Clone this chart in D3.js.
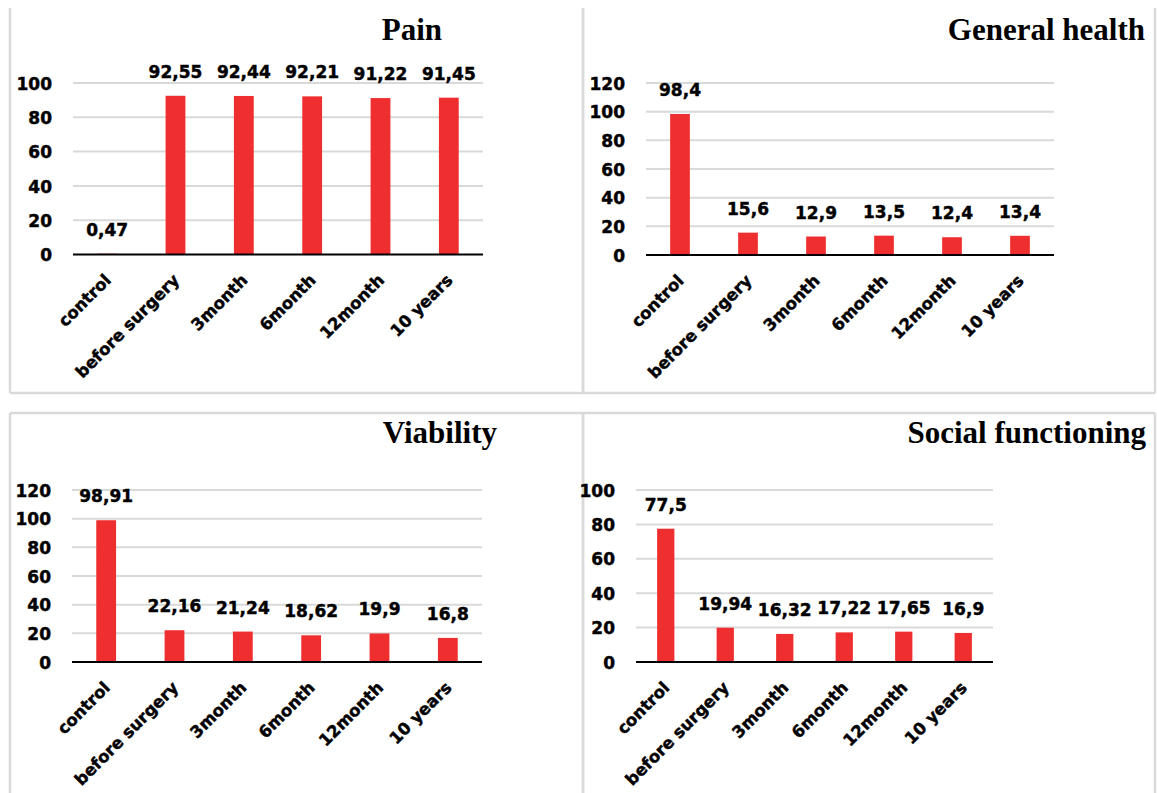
<!DOCTYPE html>
<html>
<head>
<meta charset="utf-8">
<script src="https://cdn.jsdelivr.net/npm/d3@7"></script>
<style>
  html, body { margin: 0; padding: 0; background: #fff; }
  svg { display: block; }
  .title { font-family: "Liberation Serif", "Times New Roman", serif; font-weight: bold; font-size: 31px; fill: #000; }
  .tick-label, .value-label, .cat-label { font-family: "DejaVu Sans", sans-serif; font-weight: bold; fill: #000; stroke: #000; stroke-width: 0.45px; }
  .tick-label { font-size: 17px; }
  .value-label { font-size: 17px; }
  .cat-label { font-size: 16.5px; }
</style>
</head>
<body>
<svg id="chart" width="1157" height="793"></svg>
<script>
// Time points shared by all four quality-of-life domains
const categories = ["control", "before surgery", "3month", "6month", "12month", "10 years"];

// Scores per domain
const painValues = [0.47, 92.55, 92.44, 92.21, 91.22, 91.45];
const generalHealthValues = [98.4, 15.6, 12.9, 13.5, 12.4, 13.4];
const viabilityValues = [98.91, 22.16, 21.24, 18.62, 19.9, 16.8];
const socialFunctioningValues = [77.5, 19.94, 16.32, 17.22, 17.65, 16.9];

// Y-axis ticks per domain
const painTicks = [0, 20, 40, 60, 80, 100];
const generalHealthTicks = [0, 20, 40, 60, 80, 100, 120];
const viabilityTicks = [0, 20, 40, 60, 80, 100, 120];
const socialFunctioningTicks = [0, 20, 40, 60, 80, 100];

const BAR_COLOR = "#ef2f2f";
const GRID_COLOR = "#d9d9d9";
const FRAME_COLOR = "#d9d9d9";

// Panel geometry: frame edges, plot area, title placement
const panels = [
  { title: "Pain", values: painValues, ticks: painTicks,
    frame: { left: 10, right: 583, top: 8, bottom: 393, topLine: false },
    plot: { x0: 73, x1: 483, yTop: 83, yBase: 254.5 },
    titleX: 442, titleY: 40 },
  { title: "General health", values: generalHealthValues, ticks: generalHealthTicks,
    frame: { left: 583, right: 1155, top: 8, bottom: 393, topLine: false },
    plot: { x0: 646, x1: 1054, yTop: 83, yBase: 255 },
    titleX: 1145, titleY: 40 },
  { title: "Viability", values: viabilityValues, ticks: viabilityTicks,
    frame: { left: 10, right: 583, top: 413, bottom: 800, topLine: true },
    plot: { x0: 72, x1: 482, yTop: 490, yBase: 662 },
    titleX: 497, titleY: 443 },
  { title: "Social functioning", values: socialFunctioningValues, ticks: socialFunctioningTicks,
    frame: { left: 583, right: 1155, top: 413, bottom: 800, topLine: true },
    plot: { x0: 636, x1: 993, yTop: 490, yBase: 662 },
    titleX: 1146, titleY: 443 }
];

const svg = d3.select("#chart");
svg.append("rect").attr("width", 1157).attr("height", 793).attr("fill", "#fff");

const fmt = v => String(v).replace(".", ",");

panels.forEach(p => {
  const g = svg.append("g");
  const f = p.frame;

  // panel frame edges
  const edges = [
    [f.left, f.top, f.left, f.bottom],
    [f.right, f.top, f.right, f.bottom],
    [f.left, f.bottom, f.right, f.bottom]
  ];
  if (f.topLine) edges.push([f.left, f.top, f.right, f.top]);
  g.append("g").selectAll("line")
    .data(edges)
    .join("line")
    .attr("x1", d => d[0]).attr("y1", d => d[1])
    .attr("x2", d => d[2]).attr("y2", d => d[3])
    .attr("stroke", FRAME_COLOR).attr("stroke-width", 2.5);

  const x = d3.scaleBand()
    .domain(categories)
    .range([p.plot.x0, p.plot.x1])
    .paddingInner(0.71)
    .paddingOuter(0.355);

  const yMax = d3.max(p.ticks);
  const y = d3.scaleLinear().domain([0, yMax]).range([p.plot.yBase, p.plot.yTop]);

  // gridlines
  g.append("g").selectAll("line")
    .data(p.ticks.filter(t => t > 0))
    .join("line")
    .attr("x1", p.plot.x0).attr("x2", p.plot.x1)
    .attr("y1", d => y(d)).attr("y2", d => y(d))
    .attr("stroke", GRID_COLOR).attr("stroke-width", 2);

  // y tick labels
  const yAxis = d3.axisLeft(y).tickValues(p.ticks).tickSize(0).tickPadding(21);
  const ya = g.append("g")
    .attr("transform", `translate(${p.plot.x0},0)`)
    .call(yAxis);
  ya.select(".domain").remove();
  ya.selectAll("text")
    .attr("class", "tick-label")
    .attr("font-family", null).attr("font-size", null)
    .attr("dy", "0.36em");

  // bars
  g.append("g").selectAll("rect")
    .data(p.values)
    .join("rect")
    .attr("x", (d, i) => x(categories[i]))
    .attr("width", x.bandwidth())
    .attr("y", d => y(d))
    .attr("height", d => y(0) - y(d))
    .attr("fill", BAR_COLOR);

  // baseline
  g.append("line")
    .attr("x1", p.plot.x0).attr("x2", p.plot.x1)
    .attr("y1", y(0)).attr("y2", y(0))
    .attr("stroke", "#000").attr("stroke-width", 2);

  // value labels
  g.append("g").selectAll("text")
    .data(p.values)
    .join("text")
    .attr("class", "value-label")
    .attr("text-anchor", "middle")
    .attr("x", (d, i) => x(categories[i]) + x.bandwidth() / 2)
    .attr("y", d => y(d) - 18)
    .text(d => fmt(d));

  // rotated category labels
  g.append("g").selectAll("text")
    .data(categories)
    .join("text")
    .attr("class", "cat-label")
    .attr("text-anchor", "end")
    .attr("transform", d => `translate(${x(d) + x.bandwidth() / 2 - 4},${y(0) + 18}) rotate(-45)`)
    .attr("dy", "0.75em")
    .text(d => d);

  // title
  g.append("text")
    .attr("class", "title")
    .attr("text-anchor", "end")
    .attr("x", p.titleX).attr("y", p.titleY)
    .text(p.title);
});
</script>
</body>
</html>
